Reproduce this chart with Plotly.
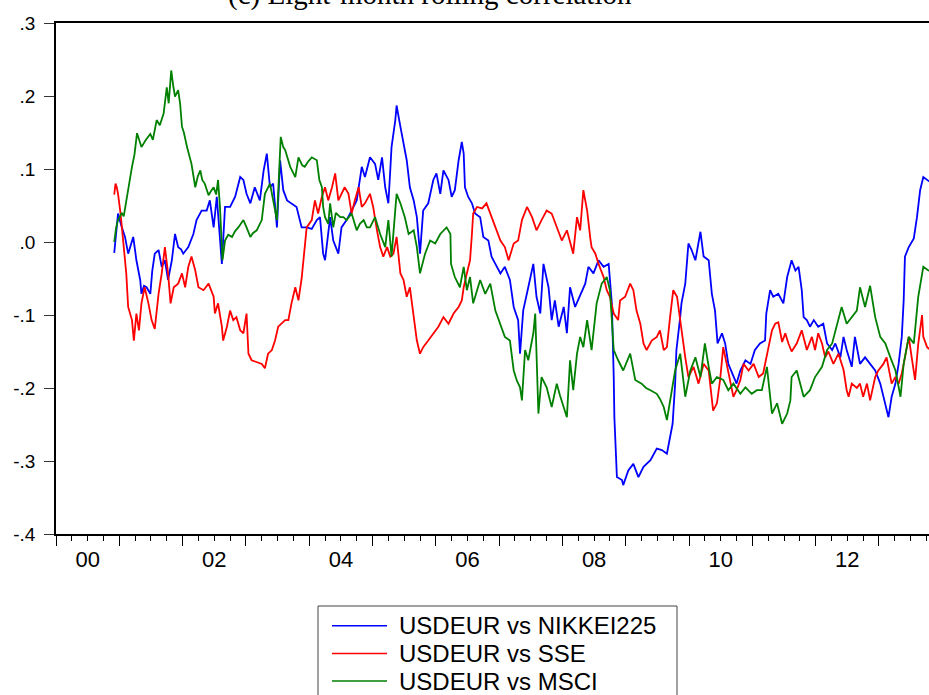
import plotly.graph_objects as go

# ---------------- data (decimal years, correlation values) ----------------
nikkei_t = [2000.92, 2000.98, 2001.04, 2001.09, 2001.14, 2001.22, 2001.27, 2001.33, 2001.35, 2001.39,
            2001.43, 2001.49, 2001.52, 2001.56, 2001.62, 2001.67, 2001.72, 2001.77, 2001.83, 2001.88,
            2001.93, 2001.975, 2002.01, 2002.09, 2002.17, 2002.22, 2002.30, 2002.38, 2002.43, 2002.49,
            2002.54, 2002.62, 2002.67, 2002.75, 2002.83, 2002.91, 2002.96, 2003.01, 2003.07, 2003.14,
            2003.22, 2003.28, 2003.33, 2003.38, 2003.43, 2003.49, 2003.54, 2003.59, 2003.65, 2003.72,
            2003.80, 2003.88, 2003.96, 2004.04, 2004.12, 2004.17, 2004.22, 2004.25, 2004.33, 2004.38,
            2004.46, 2004.51, 2004.59, 2004.67, 2004.75, 2004.83, 2004.88, 2004.96, 2005.04, 2005.09,
            2005.15, 2005.20, 2005.25, 2005.28, 2005.30, 2005.36, 2005.38, 2005.44, 2005.49, 2005.54,
            2005.59, 2005.65, 2005.70, 2005.75, 2005.80, 2005.88, 2005.96, 2006.01, 2006.07, 2006.12,
            2006.20, 2006.25, 2006.30, 2006.36, 2006.41, 2006.44, 2006.46, 2006.51, 2006.57, 2006.62,
            2006.70, 2006.75, 2006.83, 2006.88, 2006.94, 2007.02, 2007.09, 2007.17, 2007.23, 2007.30,
            2007.33, 2007.38, 2007.46, 2007.54, 2007.59, 2007.65, 2007.70, 2007.78, 2007.83, 2007.88,
            2007.94, 2008.02, 2008.07, 2008.12, 2008.20, 2008.28, 2008.36, 2008.41, 2008.49, 2008.57,
            2008.65, 2008.73, 2008.78, 2008.81, 2008.82, 2008.86, 2008.94, 2008.96, 2009.04, 2009.12,
            2009.20, 2009.28, 2009.39, 2009.49, 2009.57, 2009.65, 2009.70, 2009.74, 2009.78, 2009.80,
            2009.86, 2009.88, 2009.94, 2009.99, 2010.04, 2010.10, 2010.18, 2010.23, 2010.31, 2010.36,
            2010.41, 2010.45, 2010.52, 2010.57, 2010.62, 2010.70, 2010.75, 2010.81, 2010.89, 2010.97,
            2011.04, 2011.12, 2011.20, 2011.22, 2011.28, 2011.33, 2011.41, 2011.49, 2011.55, 2011.62,
            2011.68, 2011.73, 2011.78, 2011.81, 2011.86, 2011.91, 2011.97, 2012.04, 2012.12, 2012.18,
            2012.26, 2012.31, 2012.39, 2012.44, 2012.49, 2012.57, 2012.62, 2012.70, 2012.78, 2012.86,
            2012.94, 2013.02, 2013.10, 2013.15, 2013.20, 2013.26, 2013.31, 2013.36, 2013.39, 2013.41,
            2013.47, 2013.55, 2013.60, 2013.65, 2013.70, 2013.76, 2013.84]
nikkei_v = [-0.015, 0.039, 0.020, 0.007, -0.016, 0.007, -0.025, -0.052, -0.071, -0.060,
            -0.062, -0.071, -0.040, -0.016, -0.011, -0.034, -0.025, -0.052, -0.025, 0.011,
            -0.007, -0.010, -0.016, -0.007, 0.011, 0.030, 0.043, 0.043, 0.057, 0.020,
            0.062, -0.030, 0.048, 0.048, 0.062, 0.089, 0.085, 0.066, 0.053, 0.075,
            0.057, 0.098, 0.121, 0.075, 0.080, 0.020, 0.112, 0.071, 0.057, 0.053,
            0.048, 0.020, 0.020, 0.018, 0.030, 0.034, -0.016, -0.025, 0.034, 0.002,
            -0.016, 0.020, 0.030, 0.043, 0.057, 0.103, 0.089, 0.116, 0.107, 0.085,
            0.116, 0.075, 0.053, 0.098, 0.130, 0.167, 0.187, 0.158, 0.135, 0.112,
            0.075, 0.057, 0.034, -0.016, 0.043, 0.053, 0.085, 0.094, 0.066, 0.098,
            0.085, 0.062, 0.071, 0.112, 0.137, 0.121, 0.075, 0.062, 0.053, 0.039,
            0.034, 0.007, 0.002, -0.020, -0.030, -0.043, -0.034, -0.052, -0.089, -0.107,
            -0.153, -0.094, -0.062, -0.030, -0.075, -0.098, -0.030, -0.062, -0.107, -0.080,
            -0.116, -0.089, -0.125, -0.062, -0.089, -0.073, -0.057, -0.034, -0.043, -0.025,
            -0.034, -0.030, -0.084, -0.185, -0.240, -0.322, -0.326, -0.333, -0.313, -0.304,
            -0.322, -0.308, -0.299, -0.283, -0.285, -0.290, -0.267, -0.249, -0.194, -0.148,
            -0.103, -0.084, -0.057, -0.002, -0.011, -0.025, 0.014, -0.020, -0.025, -0.071,
            -0.094, -0.139, -0.125, -0.139, -0.167, -0.185, -0.194, -0.176, -0.162, -0.167,
            -0.148, -0.139, -0.135, -0.098, -0.066, -0.075, -0.071, -0.084, -0.048, -0.025,
            -0.039, -0.034, -0.066, -0.103, -0.107, -0.116, -0.107, -0.116, -0.112, -0.139,
            -0.148, -0.139, -0.158, -0.130, -0.148, -0.171, -0.130, -0.167, -0.158, -0.167,
            -0.176, -0.194, -0.221, -0.240, -0.212, -0.194, -0.167, -0.130, -0.080, -0.020,
            -0.007, 0.005, 0.034, 0.071, 0.089, 0.085, 0.080]

sse_t = [2000.92, 2000.94, 2000.96, 2000.98, 2001.02, 2001.11, 2001.14, 2001.20, 2001.23, 2001.27,
         2001.31, 2001.35, 2001.40, 2001.46, 2001.51, 2001.56, 2001.62, 2001.67, 2001.72, 2001.77,
         2001.81, 2001.86, 2001.93, 2001.99, 2002.04, 2002.09, 2002.14, 2002.20, 2002.25, 2002.33,
         2002.41, 2002.49, 2002.51, 2002.56, 2002.62, 2002.64, 2002.70, 2002.75, 2002.80, 2002.85,
         2002.91, 2002.96, 2003.01, 2003.04, 2003.09, 2003.17, 2003.25, 2003.30, 2003.35, 2003.41,
         2003.46, 2003.51, 2003.56, 2003.62, 2003.67, 2003.72, 2003.78, 2003.83, 2003.88, 2003.92,
         2003.96, 2004.04, 2004.09, 2004.14, 2004.20, 2004.25, 2004.30, 2004.36, 2004.41, 2004.46,
         2004.51, 2004.56, 2004.62, 2004.67, 2004.72, 2004.78, 2004.83, 2004.88, 2004.96, 2005.01,
         2005.07, 2005.12, 2005.17, 2005.23, 2005.28, 2005.33, 2005.38, 2005.44, 2005.49, 2005.54,
         2005.59, 2005.65, 2005.70, 2005.75, 2005.80, 2005.88, 2005.96, 2006.04, 2006.12, 2006.20,
         2006.28, 2006.36, 2006.41, 2006.44, 2006.49, 2006.54, 2006.57, 2006.59, 2006.65, 2006.73,
         2006.80, 2006.88, 2006.96, 2007.02, 2007.09, 2007.15, 2007.23, 2007.30, 2007.36, 2007.44,
         2007.52, 2007.59, 2007.67, 2007.75, 2007.83, 2007.91, 2007.99, 2008.07, 2008.15, 2008.17,
         2008.23, 2008.28, 2008.33, 2008.39, 2008.44, 2008.46, 2008.52, 2008.57, 2008.65, 2008.70,
         2008.75, 2008.81, 2008.88, 2008.91, 2008.99, 2009.07, 2009.12, 2009.17, 2009.23, 2009.28,
         2009.33, 2009.41, 2009.49, 2009.54, 2009.60, 2009.65, 2009.70, 2009.75, 2009.81, 2009.89,
         2009.94, 2009.99, 2010.07, 2010.15, 2010.23, 2010.31, 2010.38, 2010.44, 2010.49, 2010.54,
         2010.60, 2010.65, 2010.70, 2010.75, 2010.81, 2010.86, 2010.94, 2011.02, 2011.10, 2011.17,
         2011.25, 2011.31, 2011.36, 2011.41, 2011.47, 2011.52, 2011.57, 2011.62, 2011.70, 2011.78,
         2011.86, 2011.94, 2011.99, 2012.04, 2012.10, 2012.15, 2012.20, 2012.28, 2012.36, 2012.44,
         2012.49, 2012.52, 2012.57, 2012.65, 2012.70, 2012.75, 2012.81, 2012.86, 2012.94, 2012.99,
         2013.07, 2013.12, 2013.20, 2013.26, 2013.31, 2013.36, 2013.41, 2013.47, 2013.52, 2013.57,
         2013.62, 2013.68, 2013.70, 2013.76, 2013.84]
sse_v = [0.065, 0.080, 0.075, 0.066, 0.039, -0.043, -0.089, -0.107, -0.135, -0.098,
         -0.121, -0.084, -0.062, -0.084, -0.107, -0.119, -0.071, -0.043, -0.007, -0.043,
         -0.084, -0.062, -0.057, -0.043, -0.062, -0.034, -0.020, -0.039, -0.062, -0.066,
         -0.057, -0.075, -0.098, -0.084, -0.116, -0.135, -0.116, -0.094, -0.107, -0.103,
         -0.121, -0.125, -0.098, -0.153, -0.162, -0.164, -0.167, -0.173, -0.153, -0.148,
         -0.135, -0.116, -0.112, -0.107, -0.107, -0.084, -0.062, -0.080, -0.050, -0.016,
         0.020, 0.030, 0.057, 0.039, 0.062, 0.075, 0.057, 0.075, 0.094, 0.057,
         0.066, 0.075, 0.066, 0.039, 0.057, 0.075, 0.048, 0.053, 0.066, 0.048,
         0.016, -0.007, -0.020, -0.007, -0.020, -0.016, 0.007, -0.043, -0.052, -0.075,
         -0.062, -0.098, -0.135, -0.153, -0.144, -0.135, -0.125, -0.116, -0.103, -0.112,
         -0.098, -0.089, -0.080, -0.062, -0.043, -0.025, 0.011, 0.039, 0.048, 0.046,
         0.053, 0.034, 0.016, 0.002, -0.007, -0.025, -0.002, 0.002, 0.030, 0.048,
         0.034, 0.016, 0.030, 0.043, 0.039, 0.020, 0.002, 0.016, -0.007, -0.016,
         0.034, 0.016, 0.071, 0.043, 0.005, -0.007, -0.016, -0.030, -0.048, -0.066,
         -0.075, -0.098, -0.107, -0.080, -0.075, -0.057, -0.066, -0.094, -0.112, -0.139,
         -0.148, -0.135, -0.130, -0.121, -0.148, -0.144, -0.103, -0.066, -0.075, -0.130,
         -0.158, -0.185, -0.171, -0.194, -0.167, -0.176, -0.231, -0.221, -0.189, -0.144,
         -0.171, -0.194, -0.212, -0.203, -0.189, -0.167, -0.176, -0.167, -0.185, -0.180,
         -0.148, -0.121, -0.112, -0.110, -0.137, -0.125, -0.139, -0.150, -0.139, -0.121,
         -0.148, -0.130, -0.148, -0.125, -0.139, -0.158, -0.150, -0.167, -0.153, -0.175,
         -0.203, -0.212, -0.194, -0.200, -0.194, -0.212, -0.194, -0.217, -0.185, -0.176,
         -0.167, -0.158, -0.194, -0.185, -0.194, -0.180, -0.158, -0.130, -0.160, -0.189,
         -0.140, -0.100, -0.130, -0.144, -0.150]

msci_t = [2000.92, 2000.95, 2000.98, 2001.04, 2001.07, 2001.12, 2001.15, 2001.20, 2001.24, 2001.28,
          2001.35, 2001.42, 2001.49, 2001.53, 2001.59, 2001.64, 2001.70, 2001.75, 2001.78, 2001.82,
          2001.85, 2001.88, 2001.93, 2001.96, 2001.99, 2002.02, 2002.07, 2002.10, 2002.14, 2002.20,
          2002.24, 2002.28, 2002.31, 2002.35, 2002.41, 2002.45, 2002.49, 2002.53, 2002.56, 2002.59,
          2002.63, 2002.67, 2002.72, 2002.78, 2002.83, 2002.88, 2002.96, 2003.01, 2003.07, 2003.11,
          2003.17, 2003.25, 2003.30, 2003.38, 2003.43, 2003.49, 2003.55, 2003.59, 2003.62, 2003.70,
          2003.78, 2003.83, 2003.89, 2003.93, 2003.98, 2004.04, 2004.12, 2004.16, 2004.20, 2004.22,
          2004.25, 2004.30, 2004.33, 2004.38, 2004.42, 2004.49, 2004.54, 2004.59, 2004.67, 2004.75,
          2004.80, 2004.86, 2004.91, 2004.96, 2005.04, 2005.12, 2005.20, 2005.25, 2005.30, 2005.38,
          2005.44, 2005.51, 2005.57, 2005.65, 2005.70, 2005.75, 2005.83, 2005.91, 2005.99, 2006.07,
          2006.17, 2006.23, 2006.24, 2006.30, 2006.38, 2006.44, 2006.49, 2006.54, 2006.59, 2006.64,
          2006.70, 2006.78, 2006.86, 2006.94, 2007.02, 2007.09, 2007.17, 2007.23, 2007.28, 2007.33,
          2007.36, 2007.41, 2007.46, 2007.51, 2007.54, 2007.57, 2007.62, 2007.67, 2007.75, 2007.83,
          2007.91, 2007.96, 2008.02, 2008.07, 2008.12, 2008.17, 2008.23, 2008.28, 2008.33, 2008.39,
          2008.46, 2008.54, 2008.62, 2008.70, 2008.75, 2008.81, 2008.88, 2008.96, 2009.07, 2009.15,
          2009.25, 2009.32, 2009.39, 2009.49, 2009.54, 2009.60, 2009.65, 2009.73, 2009.78, 2009.86,
          2009.94, 2010.02, 2010.10, 2010.18, 2010.25, 2010.31, 2010.36, 2010.44, 2010.54, 2010.62,
          2010.70, 2010.81, 2010.89, 2010.99, 2011.07, 2011.15, 2011.23, 2011.31, 2011.39, 2011.47,
          2011.55, 2011.60, 2011.62, 2011.70, 2011.76, 2011.81, 2011.91, 2011.99, 2012.10, 2012.18,
          2012.26, 2012.34, 2012.41, 2012.49, 2012.57, 2012.65, 2012.70, 2012.78, 2012.86, 2012.94,
          2013.02, 2013.10, 2013.18, 2013.26, 2013.34, 2013.39, 2013.47, 2013.55, 2013.62, 2013.70,
          2013.78, 2013.84]
msci_v = [0.000, 0.020, 0.030, 0.040, 0.035, 0.062, 0.080, 0.103, 0.120, 0.149,
          0.130, 0.140, 0.148, 0.140, 0.167, 0.160, 0.176, 0.212, 0.190, 0.235,
          0.215, 0.199, 0.208, 0.190, 0.158, 0.150, 0.130, 0.120, 0.107, 0.075,
          0.090, 0.098, 0.085, 0.080, 0.064, 0.070, 0.075, 0.065, 0.085, 0.048,
          -0.025, 0.002, 0.010, 0.007, 0.015, 0.020, 0.030, 0.020, 0.007, 0.012,
          0.016, 0.030, 0.066, 0.080, 0.057, 0.030, 0.144, 0.130, 0.126, 0.103,
          0.089, 0.116, 0.105, 0.103, 0.110, 0.116, 0.112, 0.085, 0.075, 0.048,
          0.034, 0.025, 0.053, 0.020, 0.040, 0.034, 0.034, 0.030, 0.039, 0.016,
          0.025, 0.030, 0.020, 0.020, 0.034, 0.011, -0.007, 0.030, -0.020, 0.066,
          0.053, 0.034, 0.011, 0.016, -0.007, -0.043, -0.016, 0.002, -0.002, 0.011,
          0.020, 0.011, -0.030, -0.048, -0.062, -0.034, -0.066, -0.048, -0.084, -0.070,
          -0.052, -0.071, -0.057, -0.094, -0.112, -0.130, -0.135, -0.176, -0.190, -0.199,
          -0.217, -0.148, -0.162, -0.140, -0.125, -0.098, -0.235, -0.185, -0.199, -0.226,
          -0.194, -0.210, -0.226, -0.240, -0.162, -0.203, -0.153, -0.130, -0.144, -0.107,
          -0.148, -0.084, -0.057, -0.048, -0.066, -0.148, -0.162, -0.176, -0.153, -0.189,
          -0.194, -0.200, -0.203, -0.208, -0.215, -0.226, -0.244, -0.203, -0.176, -0.153,
          -0.212, -0.176, -0.158, -0.185, -0.139, -0.171, -0.194, -0.185, -0.189, -0.203,
          -0.194, -0.208, -0.199, -0.208, -0.203, -0.203, -0.171, -0.235, -0.221, -0.249,
          -0.235, -0.217, -0.185, -0.176, -0.194, -0.212, -0.203, -0.185, -0.171, -0.148,
          -0.139, -0.112, -0.089, -0.112, -0.103, -0.094, -0.062, -0.089, -0.060, -0.103,
          -0.130, -0.139, -0.158, -0.176, -0.212, -0.167, -0.130, -0.139, -0.075, -0.034,
          -0.039, -0.040]

series_names = ["USDEUR vs NIKKEI225", "USDEUR vs SSE", "USDEUR vs MSCI"]
series_colors = ["#0000FF", "#FF0000", "#008000"]

year_label_pos = [2000.5, 2002.5, 2004.5, 2006.5, 2008.5, 2010.5, 2012.5]
year_labels = ["00", "02", "04", "06", "08", "10", "12"]
y_tickvals = [-0.4, -0.3, -0.2, -0.1, 0.0, 0.1, 0.2, 0.3]
y_ticktext = ["-.4", "-.3", "-.2", "-.1", ".0", ".1", ".2", ".3"]
title_text = "(c) Eight-month rolling correlation"

# ---------------- layout geometry ----------------
W, H = 929, 695
ML, MR, MT, MB = 56, 0, 23, 161
PW, PH = W - ML - MR, H - MT - MB
X_RANGE = [2000.0, 2013.79]


def px2x(px):
    return (px - ML) / PW


def py2y(py):
    return (H - MB - py) / PH


fig = go.Figure()
for t, v, name, col in zip([nikkei_t, sse_t, msci_t], [nikkei_v, sse_v, msci_v],
                           series_names, series_colors):
    fig.add_trace(go.Scatter(x=t, y=v, mode="lines", name=name,
                             line=dict(color=col, width=1.8), showlegend=False))

# empty trace so the label axis exists
fig.add_trace(go.Scatter(x=[], y=[], xaxis="x2", showlegend=False, hoverinfo="skip"))

font_sans = "Liberation Sans, Arial, sans-serif"

fig.update_layout(
    width=W, height=H, autosize=False,
    margin=dict(l=ML, r=MR, t=MT, b=MB),
    paper_bgcolor="white", plot_bgcolor="white",
    showlegend=False,
    font=dict(family=font_sans, color="black"),
    xaxis=dict(range=X_RANGE, showgrid=False, zeroline=False,
               showline=True, linecolor="black", linewidth=1.5, mirror=True,
               tickmode="linear", tick0=2000, dtick=1,
               ticks="outside", ticklen=10, tickwidth=1, tickcolor="black",
               showticklabels=False,
               minor=dict(tickmode="linear", tick0=2000, dtick=0.25, ticks="outside",
                          ticklen=5, tickwidth=1, tickcolor="black", showgrid=False)),
    xaxis2=dict(range=X_RANGE, overlaying="x", anchor="y", side="bottom",
                showgrid=False, zeroline=False, showline=False,
                tickmode="array", tickvals=year_label_pos, ticktext=year_labels,
                ticks="outside", ticklen=6, tickcolor="rgba(0,0,0,0)",
                tickfont=dict(size=22, family=font_sans, color="black")),
    yaxis=dict(range=[-0.4, 0.3], showgrid=False, zeroline=False,
               showline=True, linecolor="black", linewidth=1.5,
               tickmode="array", tickvals=y_tickvals, ticktext=y_ticktext,
               ticks="outside", ticklen=10, tickwidth=1, tickcolor="#333333",
               ticklabelstandoff=5,
               tickfont=dict(size=19, family=font_sans, color="black")),
)

# title, mostly cut off at the top of the picture
fig.add_annotation(text=title_text, xref="paper", yref="paper",
                   x=px2x(430), y=1, xanchor="center", yanchor="bottom", yshift=10,
                   showarrow=False,
                   font=dict(family="Liberation Serif, Times New Roman, serif", size=29,
                             color="black"))

# legend box drawn below the plot
fig.add_shape(type="rect", xref="paper", yref="paper",
              x0=px2x(318), x1=px2x(677), y0=py2y(710), y1=py2y(606),
              line=dict(color="#444444", width=1), fillcolor="white", layer="above")
for i, (name, col) in enumerate(zip(series_names, series_colors)):
    ly = 625.7 + i * 27.7
    fig.add_shape(type="line", xref="paper", yref="paper",
                  x0=px2x(332), x1=px2x(387), y0=py2y(ly), y1=py2y(ly),
                  line=dict(color=col, width=1.5))
    fig.add_annotation(text=name, xref="paper", yref="paper",
                       x=px2x(397), y=py2y(ly), xanchor="left", yanchor="middle",
                       showarrow=False,
                       font=dict(family=font_sans, size=24, color="black"))

post_js = (
    "document.documentElement.style.margin='0';"
    "document.documentElement.style.overflow='hidden';"
    "document.body.style.margin='0';"
    "document.body.style.padding='0';"
    "document.body.style.overflow='hidden';"
    "var gd=document.getElementById('{plot_id}');"
    "gd.style.width='929px';gd.style.height='695px';"
    "Plotly.relayout(gd,{width:929,height:695});"
)

fig.write_html("out.html", config={"responsive": False, "displayModeBar": False},
               post_script=post_js)
